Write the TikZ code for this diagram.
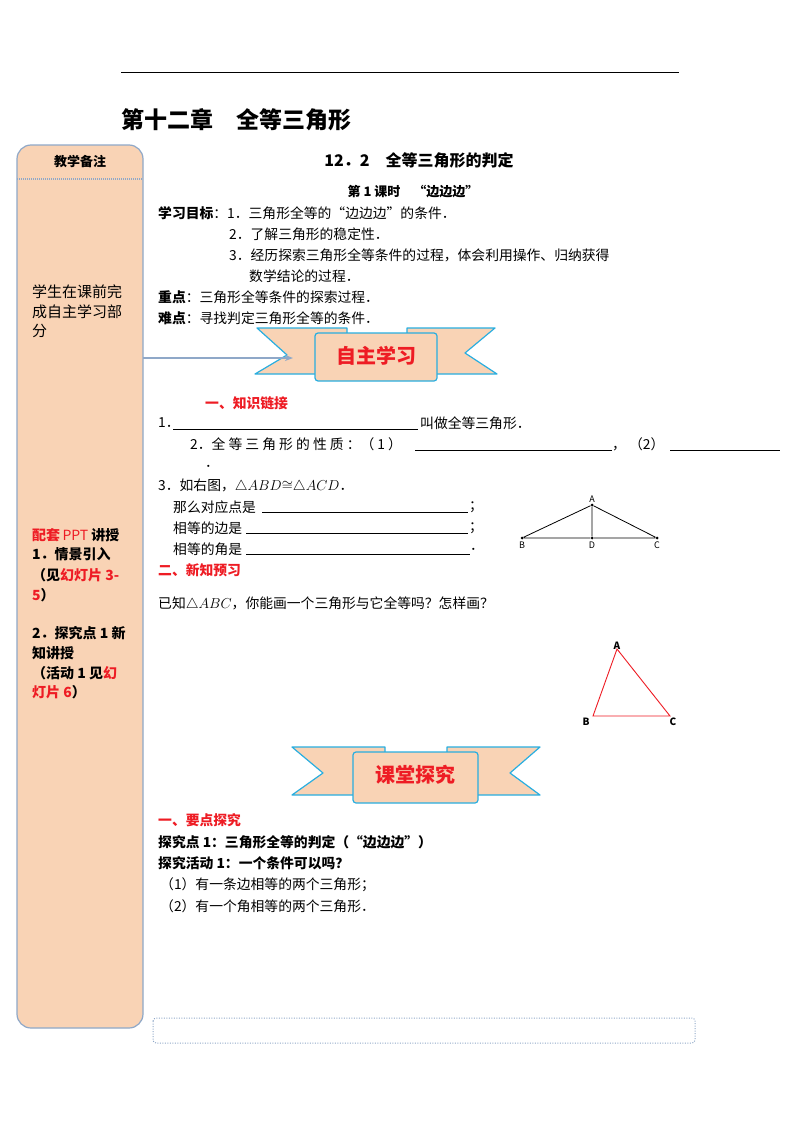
\documentclass[tikz,border=0pt]{standalone}
\usepackage{fontspec}
\setmainfont{Noto Sans CJK SC}
\usetikzlibrary{arrows.meta}
\definecolor{peach}{HTML}{F9D3B5}
\definecolor{sideb}{HTML}{8FA8C8}
\definecolor{ribb}{HTML}{29AEE0}
\definecolor{rd}{HTML}{EE1C24}
\tikzset{
 t/.style={anchor=west,inner sep=0pt,font=\fontsize{13.8}{15}\selectfont},
 tb/.style={t,font=\fontsize{13.8}{15}\selectfont\bfseries},
 tr/.style={tb,text=rd},
 st/.style={anchor=west,inner sep=0pt,font=\fontsize{15}{17}\selectfont},
 sb/.style={st,font=\fontsize{14}{16}\selectfont\bfseries},
 ul/.style={line width=0.6pt},
 wing/.style={draw=ribb,fill=peach,line width=1.2pt,line join=round},
 lbl/.style={inner sep=0pt,font=\fontsize{9}{10}\selectfont\rmfamily},
 dot/.style={circle,fill,inner sep=0pt,minimum size=3pt},
}
\begin{document}
\begin{tikzpicture}[x=1pt,y=-1pt]
\useasboundingbox (0,0) rectangle (800,1132);
\fill[white] (0,0) rectangle (800,1132);
% top rule
\draw[line width=0.8pt] (121,72) coordinate (r1) -- (679,72) coordinate (r2);
\node[anchor=west,inner sep=0pt,font=\fontsize{23}{26}\selectfont\bfseries] (title) at (121,120) {第十二章\quad 全等三角形};
% sidebar
\draw[sideb,fill=peach,line width=1.2pt,rounded corners=14pt] (17,145) rectangle (143,1028);
\draw[sideb,dash pattern=on 1pt off 1pt,line width=1.2pt] (17,179) -- (143,179);
\node[inner sep=0pt,font=\fontsize{13}{15}\selectfont\bfseries] (bz) at (80,162) {教学备注};
\node[st] (s1) at (32,292) {学生在课前完};
\node[st] (s2) at (32,312) {成自主学习部};
\node[st] (s3) at (32,331) {分};
\node[sb] (p1) at (32,535) {\textcolor{rd}{配套}\,\textcolor{rd}{\mdseries PPT} 讲授};
\node[sb] (p2) at (32,554) {1．情景引入};
\node[sb] (p3) at (32,575) {（见\textcolor{rd}{幻灯片 3-}};
\node[sb] (p4) at (32,595) {\textcolor{rd}{5}）};
\node[sb] (p5) at (32,633) {2．探究点 1 新};
\node[sb] (p6) at (32,653) {知讲授};
\node[sb] (p7) at (32,673) {（活动 1 见\textcolor{rd}{幻}};
\node[sb] (p8) at (32,692) {\textcolor{rd}{灯片 6}）};
% heading
\node[inner sep=0pt,font=\fontsize{16}{18}\selectfont\bfseries] (h2) at (419,160) {12．2\quad 全等三角形的判定};
\node[inner sep=0pt,font=\fontsize{13}{15}\selectfont\bfseries] (h3) at (413,192) {第 1 课时\quad “边边边”};
\node[t] (g1) at (158,213) {\textbf{学习目标}：1．三角形全等的“边边边”的条件．};
\node[t] (g2) at (229,234) {2．了解三角形的稳定性．};
\node[t] (g3) at (229,255) {3．经历探索三角形全等条件的过程，体会利用操作、归纳获得};
\node[t] (g4) at (249,276) {数学结论的过程．};
\node[t] (k1) at (158,297) {\textbf{重点}：三角形全等条件的探索过程．};
\node[t] (k2) at (158,318) {\textbf{难点}：寻找判定三角形全等的条件．};
% ribbon 1
\draw[wing] (257,328) -- (347,328) -- (347,374) -- (255,374) -- (287,355) -- cycle;
\draw[wing] (495,328) -- (407,328) -- (407,374) -- (497,374) -- (465,353) -- cycle;
\draw[wing,rounded corners=3pt] (315,381) rectangle (437,333);
\node[inner sep=0pt,text=rd,font=\fontsize{20}{22}\selectfont\bfseries] (z1) at (376,356) {自主学习};
\coordinate (arrS) at (143,358);
\coordinate (arrE) at (293,358);
\draw[sideb,line width=1.2pt,-{Stealth[length=8pt]}] (arrS) -- (arrE);
% section 1
\node[tr] (sec1) at (205,403) {一、知识链接};
\node[t] (q1) at (158,423) {1．};
\draw[ul] (173,429) -- (418,429);
\node[t] (q1b) at (420,423) {叫做全等三角形．};
\node[t] (q2) at (190,444) {2．全 等 三 角 形 的 性 质 ：（ 1 ）};
\draw[ul] (415,450) -- (612,450);
\node[t] (q2b) at (612,444) {，\ （2）};
\draw[ul] (670,450) -- (780,450);
\node[t] (q2c) at (205,466) {．};
\node[t] (q3) at (158,486) {3．如右图，$\triangle ABD{\cong}\triangle ACD$．};
\node[t] (q31) at (173,507) {那么对应点是};
\draw[ul] (262,512) -- (468,512);
\node[t] (q31b) at (469,507) {；};
\node[t] (q32) at (173,528) {相等的边是};
\draw[ul] (246,533) -- (468,533);
\node[t] (q32b) at (469,528) {；};
\node[t] (q33) at (173,549) {相等的角是};
\draw[ul] (246,554) -- (470,554);
\node[t] (q33b) at (470,549) {．};
% triangle ABD
\node[dot] (A) at (592,505) {};
\node[dot] (B) at (522,538) {};
\node[dot] (C) at (657,538) {};
\node[dot] (D) at (592,538) {};
\draw[line width=0.8pt] (A) -- (B) -- (D) -- (C) -- (A) -- (D);
\node[lbl,above=2pt] at (A) {A};
\node[lbl,below=4pt] at (B) {B};
\node[lbl,below=4pt] at (D) {D};
\node[lbl,below=4pt] at (C) {C};
\node[tr] (sec2) at (158,570) {二、新知预习};
\node[t] (pre) at (158,604) {已知$\triangle ABC$，你能画一个三角形与它全等吗？怎样画？};
% red triangle
\coordinate (rA) at (617,649);
\coordinate (rB) at (593,716);
\coordinate (rC) at (670,716);
\draw[rd,line width=0.9pt] (rA) -- (rB) -- (rC) -- cycle;
\node[inner sep=0pt,font=\fontsize{10}{11}\selectfont\rmfamily\bfseries\itshape] at (617,646) {A};
\node[inner sep=0pt,font=\fontsize{10}{11}\selectfont\rmfamily\bfseries\itshape] at (586,722) {B};
\node[inner sep=0pt,font=\fontsize{10}{11}\selectfont\rmfamily\bfseries\itshape] at (673,722) {C};
% ribbon 2
\draw[wing] (292,747) -- (385,747) -- (385,795) -- (292,795) -- (323,773) -- cycle;
\draw[wing] (540,747) -- (447,747) -- (447,795) -- (540,795) -- (510,773) -- cycle;
\draw[wing,rounded corners=3pt] (353,803) rectangle (478,752);
\node[inner sep=0pt,text=rd,font=\fontsize{20}{22}\selectfont\bfseries] (z2) at (415,775) {课堂探究};
% section 3
\node[tr] (sec3) at (158,820) {一、要点探究};
\node[tb] (e1) at (158,842) {探究点 1：三角形全等的判定（“边边边”）};
\node[tb] (e2) at (158,863) {探究活动 1：一个条件可以吗？};
\node[t] (e3) at (160,885) {（1）有一条边相等的两个三角形；};
\node[t] (e4) at (160,906) {（2）有一个角相等的两个三角形．};
\draw[sideb,dash pattern=on 1pt off 1.5pt,line width=1pt,rounded corners=3pt] (153,1018) rectangle (695,1043);
\end{tikzpicture}
\end{document}
